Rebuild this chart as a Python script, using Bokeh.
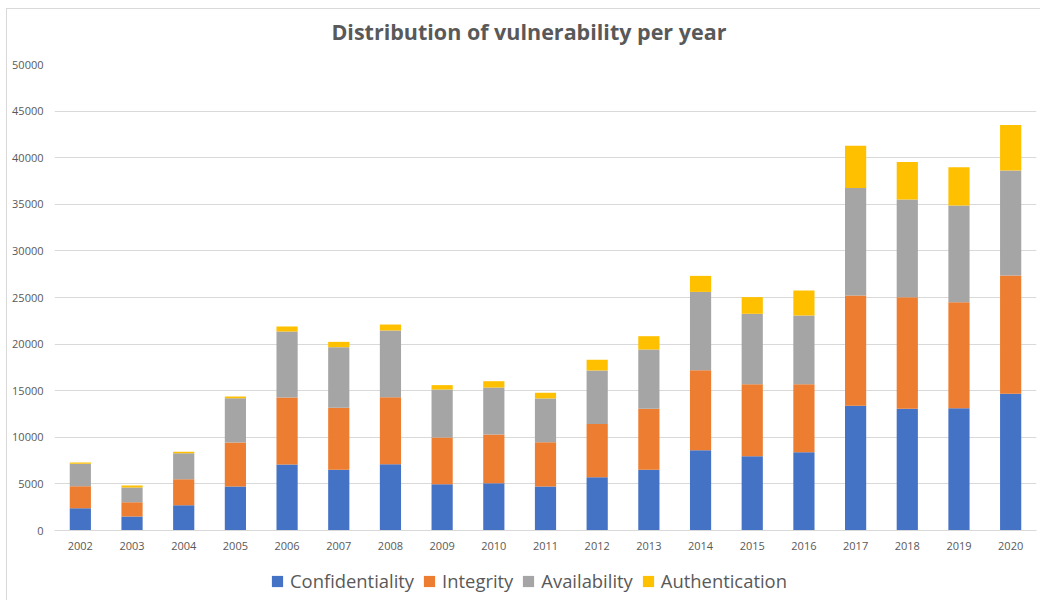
from bokeh.plotting import figure
from bokeh.layouts import column
from bokeh.models import ColumnDataSource, FixedTicker, Legend, LegendItem, Range1d, FactorRange, Label
from bokeh.embed import file_html
from bokeh.resources import INLINE

years = [str(y) for y in range(2002, 2021)]
confidentiality = [2400, 1500, 2700, 4720, 7080, 6510, 7120, 4970, 5080, 4720, 5720, 6510, 8620, 7980, 8400, 13380, 13050, 13130, 14660]
integrity = [2350, 1540, 2790, 4720, 7190, 6650, 7190, 5010, 5220, 4760, 5710, 6540, 8580, 7720, 7300, 11840, 11980, 11370, 12700]
availability = [2400, 1570, 2790, 4760, 7080, 6510, 7150, 5150, 5040, 4690, 5740, 6370, 8400, 7550, 7370, 11520, 10480, 10370, 11270]
authentication = [140, 210, 180, 180, 540, 570, 640, 470, 680, 610, 1150, 1430, 1720, 1790, 2680, 4540, 4040, 4110, 4870]

series = ["Confidentiality", "Integrity", "Availability", "Authentication"]
colors = ["#4472C4", "#ED7D31", "#A5A5A5", "#FFC000"]
y_ticks = list(range(0, 50001, 5000))
title_text = "Distribution of vulnerability per year"

source = ColumnDataSource(dict(years=years, Confidentiality=confidentiality, Integrity=integrity,
                               Availability=availability, Authentication=authentication))

def strip(h):
    f = figure(width=1033, height=h, output_backend="svg", toolbar_location=None,
               x_range=Range1d(0, 1), y_range=Range1d(0, 1), title=None,
               min_border_left=0, min_border_right=0, min_border_top=0, min_border_bottom=0)
    f.axis.visible = False
    f.grid.visible = False
    f.outline_line_color = None
    return f

# title strip
tt = strip(45)
tt.add_layout(Label(x=474.4, y=23, x_units="screen", y_units="screen", text=title_text,
                    text_align="center", text_baseline="middle", text_font="Open Sans",
                    text_font_size="21.5px", text_font_style="bold", text_color="#595959"))

# main chart
p = figure(x_range=FactorRange(*years, range_padding=0), y_range=Range1d(0, 50000),
           width=1033, height=508, output_backend="svg", toolbar_location=None, title=None,
           min_border_left=47, min_border_right=4, min_border_top=10, min_border_bottom=32)

renderers = p.vbar_stack(series, x="years", width=0.41, color=colors, source=source, line_color=None)

p.outline_line_color = None
p.xgrid.grid_line_color = None
p.ygrid.grid_line_color = "#d9d9d9"
p.ygrid.grid_line_width = 1

p.yaxis.ticker = FixedTicker(ticks=y_ticks)
p.yaxis.axis_line_color = None
p.yaxis.major_tick_line_color = None
p.yaxis.minor_tick_line_color = None
p.yaxis.major_label_text_font = "Open Sans"
p.yaxis.major_label_text_font_size = "11px"
p.yaxis.major_label_text_color = "#595959"
p.yaxis.major_label_standoff = 5

p.xaxis.axis_line_color = "#d9d9d9"
p.xaxis.major_tick_line_color = None
p.xaxis.minor_tick_line_color = None
p.xaxis.major_label_text_font = "Open Sans"
p.xaxis.major_label_text_font_size = "11px"
p.xaxis.major_label_text_color = "#595959"
p.xaxis.major_label_standoff = 5

# legend strip below the chart
lg = strip(38)
dummy = [lg.vbar(x=[-10], top=[-10], width=0.5, color=c, line_color=None) for c in colors]
legend = Legend(items=[LegendItem(label=s, renderers=[r]) for s, r in zip(series, dummy)],
                orientation="horizontal", location=(216, 7),
                label_text_font="Open Sans", label_text_font_size="18.4px", label_text_color="#595959",
                glyph_width=14, glyph_height=14, spacing=8, label_standoff=6,
                border_line_color=None, background_fill_alpha=0, padding=0, margin=0)
lg.add_layout(legend)

layout = column(tt, p, lg, spacing=0)
layout.styles = {"margin-left": "6px", "margin-top": "8px",
                 "border-left": "1px solid #d9d9d9", "border-top": "1px solid #d9d9d9"}

open("out.html", "w").write(file_html(layout, INLINE))
